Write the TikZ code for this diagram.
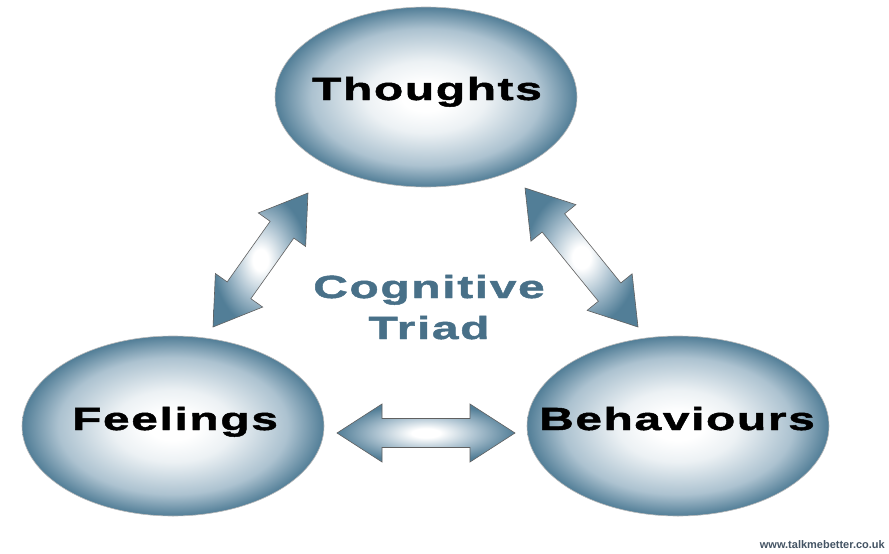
\documentclass[tikz,border=0pt]{standalone}
\usepackage{fontspec}
\setmainfont{Liberation Sans}
\newfontfamily\widefont{Liberation Sans}[FakeStretch=1.5,FakeBold=1.5,LetterSpace=5]
\usetikzlibrary{shapes.geometric,calc}

\definecolor{orbedge}{RGB}{82,126,151}
\definecolor{orbmid}{RGB}{172,194,208}
\definecolor{orblight}{RGB}{236,241,244}
\definecolor{triadblue}{RGB}{72,112,136}
\definecolor{webgray}{RGB}{68,84,100}

\pgfdeclareradialshading{orb}{\pgfpoint{0bp}{0bp}}{%
  color(0bp)=(white); color(4bp)=(white); color(10bp)=(orblight);
  color(19bp)=(orbmid); color(25bp)=(orbedge); color(50bp)=(orbedge)}
\pgfdeclareradialshading{shaft}{\pgfpoint{0bp}{0bp}}{%
  color(0bp)=(white); color(4bp)=(white); color(14bp)=(orbmid);
  color(25bp)=(orbedge); color(50bp)=(orbedge)}

\tikzset{
  orbnode/.style={ellipse, shading=orb, draw=gray!55, line width=0.6pt,
    minimum width=302pt, minimum height=180pt, inner sep=0pt},
  word/.style={font=\widefont\bfseries\fontsize{32}{36}\selectfont,
    anchor=base, inner sep=0pt},
  triad/.style={word, text=triadblue},
  arrowbody/.style={shading=shaft, draw=gray!75!black, line width=0.6pt,
    line join=miter},
}

% two-headed block arrow between two named points
\newcommand\fatarrow[2]{%
  \path[arrowbody] (#1)
    -- ($(#1)!45pt!(#2)!29pt!90:(#2)$)
    -- ($(#1)!45pt!(#2)!14.5pt!90:(#2)$)
    -- ($(#2)!45pt!(#1)!14.5pt!-90:(#1)$)
    -- ($(#2)!45pt!(#1)!29pt!-90:(#1)$)
    -- (#2)
    -- ($(#2)!45pt!(#1)!29pt!90:(#1)$)
    -- ($(#2)!45pt!(#1)!14.5pt!90:(#1)$)
    -- ($(#1)!45pt!(#2)!14.5pt!-90:(#2)$)
    -- ($(#1)!45pt!(#2)!29pt!-90:(#2)$)
    -- cycle;}

\begin{document}
\begin{tikzpicture}[x=1pt,y=-1pt]
  \fill[white] (0,0) rectangle (889,554);
  \useasboundingbox (0,0) rectangle (889,554);

  % the three circles of the triad
  \node[orbnode] (T) at (426,97) {};
  \node[orbnode] (F) at (173,426) {};
  \node[orbnode] (B) at (678,426) {};

  \node[word] (tT) at (427,100) {Thoughts};
  \node[word] (tF) at (175,430) {Feelings};
  \node[word] (tB) at (677,430) {Behaviours};

  % arrow end points between the circles
  \coordinate (ft1) at (213,327);
  \coordinate (ft2) at (308,193);
  \coordinate (tb1) at (525,188);
  \coordinate (tb2) at (638,327);
  \coordinate (fb1) at (337,433);
  \coordinate (fb2) at (515,433);

  \fatarrow{ft1}{ft2}
  \fatarrow{tb1}{tb2}
  \fatarrow{fb1}{fb2}

  \node[triad] (c1) at (429,298) {Cognitive};
  \node[triad] (c2) at (429,339) {Triad};

  \node[font=\bfseries\fontsize{11}{13}\selectfont, text=webgray,
        anchor=base east, inner sep=0pt] (web) at (885,548) {www.talkmebetter.co.uk};
\end{tikzpicture}
\end{document}
